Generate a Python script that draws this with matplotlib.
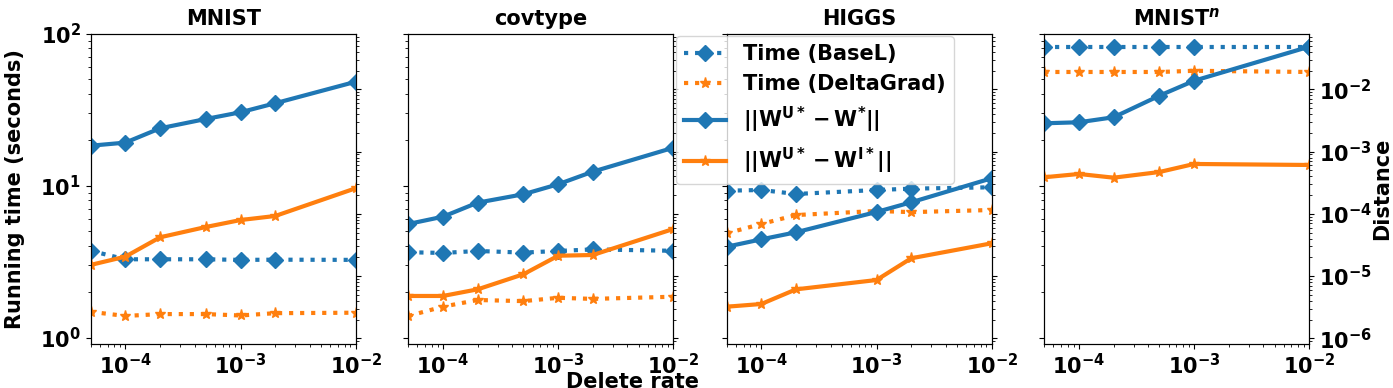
import matplotlib
matplotlib.use('Agg')
import matplotlib.pyplot as plt

plt.rcParams['font.size'] = 15
plt.rcParams['font.weight'] = 'bold'
plt.rcParams['axes.labelweight'] = 'bold'
plt.rcParams['axes.titleweight'] = 'bold'

titles = ['MNIST', 'covtype', 'HIGGS', r'MNIST$^n$']

rates_mnist = [5e-5, 1e-4, 2e-4, 5e-4, 1e-3, 2e-3, 1e-2]
time_base_mnist = [3.73, 3.28, 3.28, 3.28, 3.25, 3.26, 3.25]
time_dg_mnist = [1.48, 1.39, 1.43, 1.43, 1.40, 1.45, 1.46]
dist_base_mnist = [1.24e-3, 1.39e-3, 2.36e-3, 3.33e-3, 4.27e-3, 5.96e-3, 1.32e-2]
dist_dg_mnist = [1.51e-5, 2.05e-5, 4.19e-5, 6.14e-5, 7.94e-5, 9.22e-5, 2.57e-4]

rates_cov = [5e-5, 1e-4, 2e-4, 5e-4, 1e-3, 2e-3, 1e-2]
time_base_cov = [3.65, 3.61, 3.72, 3.63, 3.72, 3.81, 3.73]
time_dg_cov = [1.39, 1.60, 1.77, 1.74, 1.83, 1.80, 1.86]
dist_base_cov = [6.86e-5, 8.98e-5, 1.51e-4, 2.06e-4, 2.98e-4, 4.75e-4, 1.15e-3]
dist_dg_cov = [4.79e-6, 4.79e-6, 6.12e-6, 1.07e-5, 2.12e-5, 2.18e-5, 5.70e-5]

rates_higgs = [5e-5, 1e-4, 2e-4, 1e-3, 2e-3, 1e-2]
time_base_higgs = [9.27, 9.37, 8.82, 9.37, 9.56, 9.76]
time_dg_higgs = [4.86, 5.60, 6.41, 6.82, 6.70, 6.92]
dist_base_higgs = [2.96e-5, 3.89e-5, 5.05e-5, 1.07e-4, 1.53e-4, 3.72e-4]
dist_dg_higgs = [3.22e-6, 3.56e-6, 6.12e-6, 8.64e-6, 1.93e-5, 3.36e-5]

rates_mnistn = [5e-5, 1e-4, 2e-4, 5e-4, 1e-3, 1e-2]
time_base_mnistn = [82, 82, 82, 82, 82, 82]
time_dg_mnistn = [56, 56, 56, 56, 57, 56]
dist_base_mnistn = [2.84e-3, 2.95e-3, 3.55e-3, 7.89e-3, 1.37e-2, 4.83e-2]
dist_dg_mnistn = [3.86e-4, 4.36e-4, 3.80e-4, 4.69e-4, 6.31e-4, 6.08e-4]

labels = ['Time (BaseL)', 'Time (DeltaGrad)',
          r'$\mathbf{||W^{U*} - W^{*}||}$', r'$\mathbf{||W^{U*} - W^{I*}||}$']

datasets = [
    (rates_mnist, time_base_mnist, time_dg_mnist, dist_base_mnist, dist_dg_mnist),
    (rates_cov, time_base_cov, time_dg_cov, dist_base_cov, dist_dg_cov),
    (rates_higgs, time_base_higgs, time_dg_higgs, dist_base_higgs, dist_dg_higgs),
    (rates_mnistn, time_base_mnistn, time_dg_mnistn, dist_base_mnistn, dist_dg_mnistn),
]

W, H = 1393, 388
fig = plt.figure(figsize=(W / 100, H / 100), dpi=100)
lefts = [90.7, 408.3, 726.7, 1044.3]
aw = 265.0
top, bottom = 33.7, 343.7
c0, c1 = '#1f77b4', '#ff7f0e'
ms_d = 8.5
ms_s = 8
lw = 3

handles = None
for i, (title, d) in enumerate(zip(titles, datasets)):
    rates, tb, td, db, dd = d
    ax = fig.add_axes([lefts[i] / W, (H - bottom) / H, aw / W, (bottom - top) / H])
    ax2 = ax.twinx()
    ax.plot(rates, tb, ':', color=c0, marker='D', ms=ms_d, lw=lw, label=labels[0])
    ax.plot(rates, td, ':', color=c1, marker='*', ms=ms_s, lw=lw, label=labels[1])
    ax2.plot(rates, db, '-', color=c0, marker='D', ms=ms_d, lw=lw, label=labels[2])
    ax2.plot(rates, dd, '-', color=c1, marker='*', ms=ms_s, lw=lw, label=labels[3])
    for a in (ax, ax2):
        a.set_xscale('log')
        a.set_yscale('log')
        a.set_xlim(5e-5, 1e-2)
    ax.set_ylim(0.913, 100)
    ax2.set_ylim(8.2e-7, 0.078)
    ax.set_title(title, fontsize=15, fontweight='bold')
    if i == 0:
        ax.set_ylabel('Running time (seconds)', fontsize=15, fontweight='bold', labelpad=11)
    else:
        ax.tick_params(axis='y', which='both', labelleft=False)
    if i == 3:
        ax2.set_ylabel('Distance', fontsize=15, fontweight='bold', labelpad=0.3)
    else:
        ax2.tick_params(axis='y', which='both', labelright=False)
    if i == 2:
        handles = ax.get_lines() + ax2.get_lines()

fig.legend(handles, labels, loc='upper left',
           bbox_to_anchor=(676 / W, 1 - 35.7 / H), borderaxespad=0, fontsize=15)
fig.text(633 / W, (H - 372.5) / H, 'Delete rate', ha='center', va='top',
         fontsize=15, fontweight='bold')

fig.savefig('out.png', dpi=100)
